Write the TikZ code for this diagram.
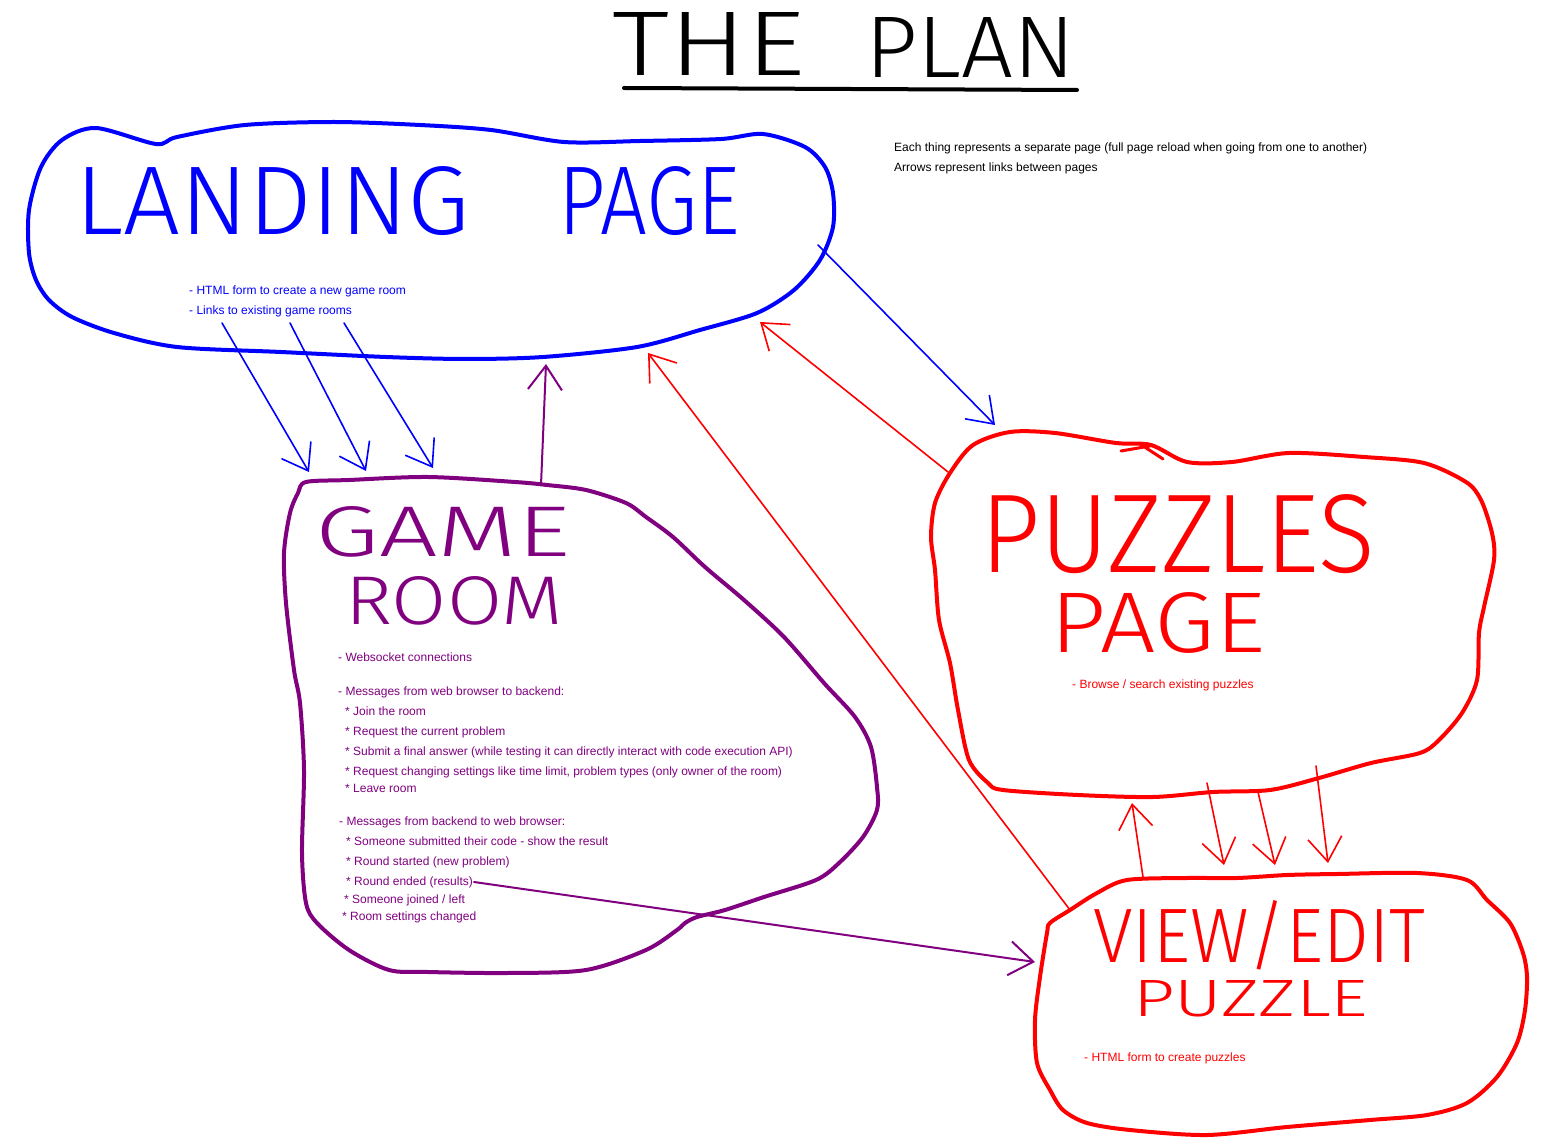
\documentclass[tikz,border=0pt]{standalone}
\usepackage{fontspec}
\usepackage{graphicx}
\setmainfont{Liberation Sans}
\newfontfamily\handfont{Fira Sans Light}
\usetikzlibrary{arrows.meta}

\definecolor{inkblue}{RGB}{0,0,255}
\definecolor{inkpurple}{RGB}{128,0,128}
\definecolor{inkred}{RGB}{255,0,0}

% a hand-lettered word, stretched to a given width and cap height
\newcommand{\handword}[3]{\resizebox{#1pt}{#2pt}{\handfont\fontsize{60}{60}\selectfont #3}}

\tikzset{
  blob/.style={line width=4pt, line join=round, line cap=round},
  link/.style={line width=1.6pt, line cap=round,
    -{Straight Barb[length=24pt,width=34pt]}},
  note/.style={anchor=base west, inner sep=0pt, font=\fontsize{12}{14}\selectfont},
  word/.style={anchor=base west, inner sep=0pt},
}

\begin{document}
\begin{tikzpicture}[x=1pt,y=-1pt]
\fill[white] (0,0) rectangle (1550,1147);
\useasboundingbox (0,0) rectangle (1550,1147);

% ---------- title ----------
\node[word] (t-the) at (612,76) {\handword{193}{63}{THE}};
\node[word] (t-plan) at (865,78) {\handword{210}{60}{PLAN}};
\draw[line width=4pt, line cap=round] (t-the.base west) ++(12,12) coordinate (ul-a)
  (ul-a) -- ++(453,2);

\node[note] (legend1) at (894,152) {Each thing represents a separate page (full page reload when going from one to another)};
\node[note] (legend2) at (894,172) {Arrows represent links between pages};

% ---------- landing page ----------
\draw[blob, inkblue] plot[smooth cycle, tension=0.5] coordinates {
  (62,140) (96,128) (156,144) (177,137) (245,125) (334,122) (420,125) (491,130)
  (564,142) (640,141) (721,139) (763,134) (805,147) (825,167) (833,193) (833,227)
  (820,260) (794,290) (757,313) (700,330) (637,347) (543,357) (465,359) (386,357)
  (281,352) (177,347) (114,333) (72,317) (49,300) (36,280) (29,253) (29,210) (41,167)};
\node[word, text=inkblue] (lp-w1) at (75,235) {\handword{395}{68}{LANDING}};
\node[word, text=inkblue] (lp-w2) at (558,235) {\handword{182}{68}{PAGE}};
\node[note, text=inkblue] (lp-n1) at (189,295) {- HTML form to create a new game room};
\node[note, text=inkblue] (lp-n2) at (189,315) {- Links to existing game rooms};

% ---------- game room ----------
\draw[blob, inkpurple] plot[smooth cycle, tension=0.5] coordinates {
  (306,482) (349,480) (428,477) (515,482) (547,485) (586,490) (626,503) (646,517)
  (673,537) (705,567) (744,600) (784,637) (824,683) (855,717) (871,747) (877,787)
  (877,810) (863,837) (839,863) (816,880) (764,897) (725,910) (697,917) (685,923)
  (677,930) (646,950) (586,970) (507,973) (428,972) (389,970) (349,950) (317,923)
  (306,903) (302,853) (304,770) (300,703) (294,670) (286,603) (284,553) (290,513) (298,493)};
\node[word, text=inkpurple] (gr-w1) at (315,556) {\handword{255}{50}{GAME}};
\node[word, text=inkpurple] (gr-w2) at (345,624) {\handword{218}{48}{ROOM}};
\begin{scope}[every node/.style={note, text=inkpurple}]
\node (gr1) at (338,661) {- Websocket connections};
\node (gr2) at (338,695) {- Messages from web browser to backend:};
\node (gr3) at (345,715) {* Join the room};
\node (gr4) at (345,735) {* Request the current problem};
\node (gr5) at (345,755) {* Submit a final answer (while testing it can directly interact with code execution API)};
\node (gr6) at (345,775) {* Request changing settings like time limit, problem types (only owner of the room)};
\node (gr7) at (345,792) {* Leave room};
\node (gr8) at (339,825) {- Messages from backend to web browser:};
\node (gr9) at (346,845) {* Someone submitted their code - show the result};
\node (gr10) at (346,865) {* Round started (new problem)};
\node (gr11) at (346,885) {* Round ended (results)};
\node (gr12) at (344,903) {* Someone joined / left};
\node (gr13) at (342,920) {* Room settings changed};
\end{scope}

% ---------- puzzles page ----------
\draw[blob, inkred] plot[smooth cycle, tension=0.5] coordinates {
  (973,445) (1010,432) (1055,433) (1116,443) (1151,445) (1187,462) (1232,462)
  (1289,453) (1364,457) (1424,463) (1466,482) (1481,500) (1492,533) (1494,560)
  (1484,607) (1479,633) (1477,680) (1462,713) (1439,740) (1420,753) (1371,763)
  (1319,778) (1270,790) (1213,792) (1153,797) (1078,795) (1003,790) (988,783)
  (969,760) (958,710) (950,663) (939,620) (935,570) (931,537) (935,503) (950,473)};
\draw[blob, inkred, line width=3pt] (1121,451) -- (1150,446) (1140,444) -- (1163,459);
\node[word, text=inkred] (pz-w1) at (980,572) {\handword{395}{78}{PUZZLES}};
\node[word, text=inkred] (pz-w2) at (1050,652) {\handword{215}{60}{PAGE}};
\node[note, text=inkred] (pz-n1) at (1072,688) {- Browse / search existing puzzles};

% ---------- view / edit puzzle ----------
\draw[blob, inkred] plot[smooth cycle, tension=0.5] coordinates {
  (1050,923) (1070,910) (1097,893) (1127,880) (1187,878) (1237,878) (1287,875)
  (1337,874) (1417,873) (1467,880) (1487,900) (1510,923) (1523,953) (1527,977)
  (1525,1010) (1517,1043) (1497,1077) (1467,1103) (1427,1115) (1370,1120)
  (1287,1127) (1207,1135) (1130,1130) (1087,1123) (1063,1110) (1050,1090)
  (1037,1063) (1035,1020) (1040,977) (1047,933)};
\node[word, text=inkred] (ve-w1) at (1093,962) {\handword{332}{62}{VIEW/EDIT}};
\node[word, text=inkred] (ve-w2) at (1133,1016) {\handword{235}{36}{PUZZLE}};
\node[note, text=inkred] (ve-n1) at (1084,1061) {- HTML form to create puzzles};

% ---------- link end points ----------
\coordinate (lp-s1) at (222,323);  \coordinate (gr-t1) at (309,472);
\coordinate (lp-s2) at (290,323);  \coordinate (gr-t2) at (366,471);
\coordinate (lp-s3) at (344,323);  \coordinate (gr-t3) at (433,468);
\coordinate (lp-e)  at (818,245);  \coordinate (pz-n)  at (995,425);
\coordinate (gr-n)  at (541,485);  \coordinate (lp-s)  at (546,364);
\coordinate (gr-res) at (474,882); \coordinate (ve-w)  at (1035,962);
\coordinate (pz-nw) at (948,472);  \coordinate (lp-se) at (760,322);
\coordinate (ve-nw) at (1070,910); \coordinate (lp-s4) at (648,353);
\coordinate (ve-n1) at (1143,877); \coordinate (pz-s1) at (1132,803);
\coordinate (pz-s2) at (1207,783); \coordinate (ve-n2) at (1224,865);
\coordinate (pz-s3) at (1258,792); \coordinate (ve-n3) at (1275,865);
\coordinate (pz-s4) at (1316,766); \coordinate (ve-n4) at (1328,863);

% ---------- links ----------
\draw[link, inkblue] (lp-s1) -- (gr-t1);
\draw[link, inkblue] (lp-s2) -- (gr-t2);
\draw[link, inkblue] (lp-s3) -- (gr-t3);
\draw[link, inkblue] (lp-e) -- (pz-n);

\draw[link, inkpurple, line width=2pt] (gr-n) -- (lp-s);
\draw[link, inkpurple, line width=2pt] (gr-res) -- (ve-w);

\draw[link, inkred] (pz-nw) -- (lp-se);
\draw[link, inkred] (ve-nw) -- (lp-s4);
\draw[link, inkred] (ve-n1) -- (pz-s1);
\draw[link, inkred] (pz-s2) -- (ve-n2);
\draw[link, inkred] (pz-s3) -- (ve-n3);
\draw[link, inkred] (pz-s4) -- (ve-n4);
\end{tikzpicture}
\end{document}
